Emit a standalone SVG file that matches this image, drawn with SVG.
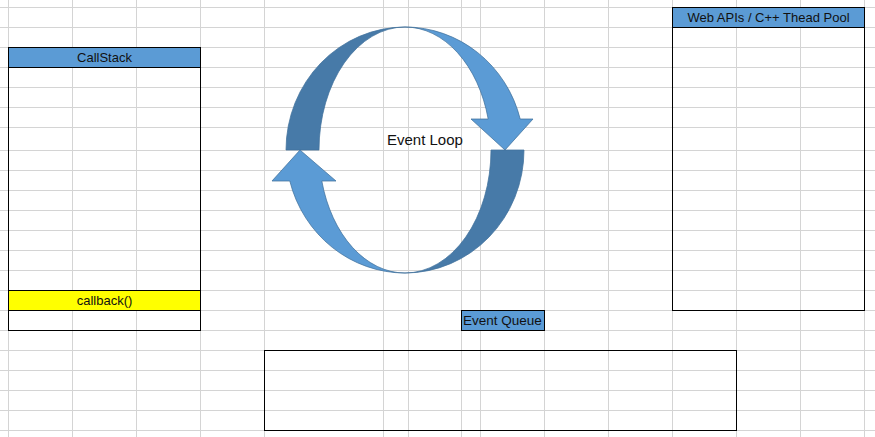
<svg xmlns="http://www.w3.org/2000/svg" width="875" height="437" viewBox="0 0 875 437">
<style>
.grid line{stroke:#d4d4d4;stroke-width:1}
.box{fill:none;stroke:#000;stroke-width:1}
.hdr{fill:#5b9bd5;stroke:#000;stroke-width:1}
.yel{fill:#ffff00;stroke:#000;stroke-width:1}
.t{font-family:"Liberation Sans",Arial,sans-serif;font-size:13px;fill:#111}
.dark{fill:#477aa8;stroke:#41719c;stroke-width:0.75}
.light{fill:#5b9bd5;stroke:#41719c;stroke-width:0.75}
</style>
<rect width="875" height="437" fill="#fff"/>
<g class="grid" id="grid">
<line x1="8.5" y1="0" x2="8.5" y2="437"/>
<line x1="72.5" y1="0" x2="72.5" y2="437"/>
<line x1="136.5" y1="0" x2="136.5" y2="437"/>
<line x1="200.5" y1="0" x2="200.5" y2="437"/>
<line x1="264.5" y1="0" x2="264.5" y2="437"/>
<line x1="383.5" y1="0" x2="383.5" y2="437"/>
<line x1="408.5" y1="0" x2="408.5" y2="437"/>
<line x1="461.5" y1="0" x2="461.5" y2="437"/>
<line x1="480.5" y1="0" x2="480.5" y2="437"/>
<line x1="544.5" y1="0" x2="544.5" y2="437"/>
<line x1="608.5" y1="0" x2="608.5" y2="437"/>
<line x1="672.5" y1="0" x2="672.5" y2="437"/>
<line x1="736.5" y1="0" x2="736.5" y2="437"/>
<line x1="800.5" y1="0" x2="800.5" y2="437"/>
<line x1="864.5" y1="0" x2="864.5" y2="437"/>
<line x1="0" y1="7.5" x2="875" y2="7.5"/>
<line x1="0" y1="27.5" x2="875" y2="27.5"/>
<line x1="0" y1="47.5" x2="875" y2="47.5"/>
<line x1="0" y1="67.5" x2="875" y2="67.5"/>
<line x1="0" y1="87.5" x2="875" y2="87.5"/>
<line x1="0" y1="107.5" x2="875" y2="107.5"/>
<line x1="0" y1="127.5" x2="875" y2="127.5"/>
<line x1="0" y1="150.5" x2="875" y2="150.5"/>
<line x1="0" y1="170.5" x2="875" y2="170.5"/>
<line x1="0" y1="190.5" x2="875" y2="190.5"/>
<line x1="0" y1="210.5" x2="875" y2="210.5"/>
<line x1="0" y1="230.5" x2="875" y2="230.5"/>
<line x1="0" y1="250.5" x2="875" y2="250.5"/>
<line x1="0" y1="270.5" x2="875" y2="270.5"/>
<line x1="0" y1="290.5" x2="875" y2="290.5"/>
<line x1="0" y1="310.5" x2="875" y2="310.5"/>
<line x1="0" y1="330.5" x2="875" y2="330.5"/>
<line x1="0" y1="350.5" x2="875" y2="350.5"/>
<line x1="0" y1="370.5" x2="875" y2="370.5"/>
<line x1="0" y1="390.5" x2="875" y2="390.5"/>
<line x1="0" y1="410.5" x2="875" y2="410.5"/>
<line x1="0" y1="430.5" x2="875" y2="430.5"/>
</g>
<g id="callstack">
<rect class="box" x="8.5" y="47.5" width="192" height="283"/>
<rect class="hdr" x="8.5" y="47.5" width="192" height="20"/>
<text class="t" x="104.5" y="62" text-anchor="middle">CallStack</text>
<rect class="yel" x="8.5" y="290.5" width="192" height="20"/>
<text class="t" x="104.5" y="305" text-anchor="middle">callback()</text>
</g>
<g id="webapis">
<rect class="box" x="672.5" y="7.5" width="192" height="303"/>
<rect class="hdr" x="672.5" y="7.5" width="192" height="20"/>
<text class="t" x="768.5" y="22" text-anchor="middle">Web APIs / C++ Thead Pool</text>
</g>
<g id="event-queue-label">
<rect class="hdr" x="461.5" y="310.5" width="83" height="20"/>
<text class="t" x="463" y="325" style="font-size:13.5px">Event Queue</text>
</g>
<g id="event-queue">
<rect class="box" x="264.5" y="350.5" width="472" height="80"/>
</g>
<g id="connectors">
<g id="event-loop-top">
<path class="dark" d="M286 150 A119 123 0 0 1 405 27 A86 123 0 0 0 319 150 Z"/>
<path class="light" d="M405 27 A119 123 0 0 1 520.2 119 L533 119 L505 150 L471 119 L488.2 119 A86 123 0 0 0 405 27 Z"/>
</g>
<g id="event-loop-bottom">
<path class="dark" d="M524 150 A119 123 0 0 1 405 273 A86 123 0 0 0 491 150 Z"/>
<path class="light" d="M405 273 A119 123 0 0 1 289.8 181 L272 181 L300 150 L336 181 L321.8 181 A86 123 0 0 0 405 273 Z"/>
</g>
</g>
<g id="event-loop-label">
<text x="387" y="145" style="font-family:'Liberation Sans',Arial,sans-serif;font-size:15px;fill:#111">Event Loop</text>
</g>
</svg>
